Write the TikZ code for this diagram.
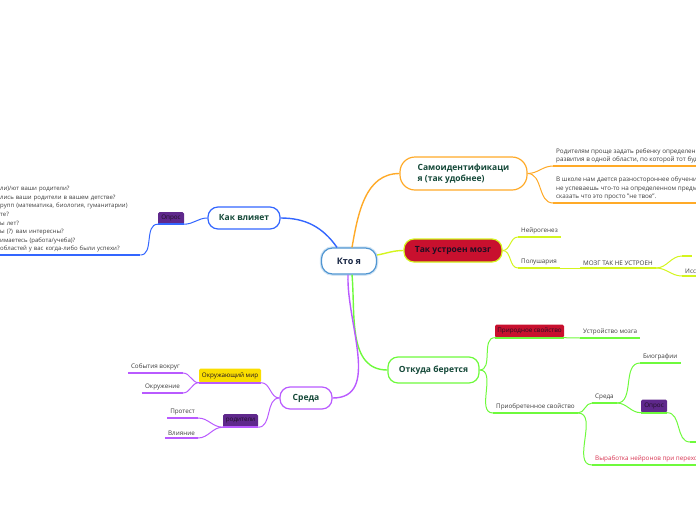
\documentclass[tikz,border=0pt]{standalone}
\usepackage{fontspec}
\setmainfont{Open Sans}
\usetikzlibrary{positioning}
\definecolor{blueline}{RGB}{51,102,255}
\definecolor{kyoblue}{RGB}{80,150,210}
\definecolor{kyotext}{RGB}{22,36,66}
\definecolor{orangeline}{RGB}{255,170,40}
\definecolor{limeline}{RGB}{212,245,30}
\definecolor{greenline}{RGB}{110,250,60}
\definecolor{purpleline}{RGB}{185,90,255}
\definecolor{crimson}{RGB}{200,16,46}
\definecolor{tagpurple}{RGB}{95,40,140}
\definecolor{tagyellow}{RGB}{250,222,0}
\definecolor{topicgreen}{RGB}{20,72,56}
\definecolor{leafgray}{RGB}{60,60,60}
\definecolor{tagtext}{RGB}{30,15,35}
\definecolor{redtext}{RGB}{215,50,80}

\begin{document}
\begin{tikzpicture}[x=1pt,y=-1pt,
  every node/.style={font=\fontsize{6.3}{8.6}\selectfont},
  topic/.style={draw=#1,fill=white,line width=1.2pt,rounded corners=10pt,inner sep=2pt,
                font=\fontsize{8.5}{11}\selectfont\bfseries,text=topicgreen,align=left},
  tag/.style={fill=#1,rounded corners=1.5pt,inner sep=1pt,minimum height=13pt,text=tagtext},
  leaf/.style={anchor=south west,inner xsep=3pt,inner ysep=2.5pt,align=left,text=leafgray},
  main/.style={draw=#1,line width=1.4pt},
  sub/.style={draw=#1,line width=1pt},
  ul/.style={draw=#1,line width=1.8pt}]
\useasboundingbox (0,0) rectangle (696,520);
\clip (0,0) rectangle (696,520);

% centre and main topics
\node[topic=kyoblue,text=kyotext,minimum width=55pt,minimum height=26pt,rounded corners=11pt,
      font=\fontsize{9}{11}\selectfont\bfseries,preaction={draw=kyoblue!25,line width=3.5pt}] (kto) at (349,261) {Кто я};
\node[topic=blueline,minimum width=72pt,minimum height=22pt] (vliyaet) at (244,218) {Как влияет};
\node[topic=orangeline,minimum width=127pt,minimum height=33pt,rounded corners=15pt] (samo) at (463.5,173.5) {Самоидентификаци\\я (так удобнее)};
\node[topic=limeline,fill=crimson,text=tagtext,minimum width=98pt,minimum height=23pt] (mozg) at (453,250.5) {Так устроен мозг};
\node[topic=greenline,minimum width=91pt,minimum height=26pt] (otkuda) at (433.5,370) {Откуда берется};
\node[topic=purpleline,minimum width=52pt,minimum height=22pt] (sreda) at (306,398) {Среда};

\draw[main=blueline] ([xshift=-12pt]kto.north) to[out=125,in=0] (vliyaet.east);
\draw[main=orangeline] ([xshift=3pt]kto.north) to[out=80,in=180] (samo.west);
\draw[main=limeline] ([yshift=6pt]kto.east) to[out=10,in=180] (mozg.west);
\draw[main=greenline] ([xshift=3pt]kto.south) to[out=-85,in=180] (otkuda.west);
\draw[main=purpleline] ([xshift=-1pt]kto.south) to[out=-92,in=0] (sreda.east);

% how it influences
\node[tag=tagpurple,minimum width=26pt,minimum height=12pt] (opros) at (171,218) {Опрос};
\node[leaf,text width=137pt,font=\fontsize{6}{8.6}\selectfont] (qlist) at (-3,255) {ли)/ют ваши родители?\\лись ваши родители в вашем детстве?\\рупп (математика, биология, гуманитарии)\\те?\\ы лет?\\ы (?) вам интересны?\\имаетесь (работа/учеба)?\\областей у вас когда-либо были успехи?};
\draw[ul=blueline] (opros.south west) -- (opros.south east); \draw[ul=blueline] (qlist.south west) -- (qlist.south east);
\draw[sub=blueline] (vliyaet.west) to[out=180,in=0] (opros.south east);
\draw[sub=blueline] (opros.south west) to[out=180,in=0] (qlist.south east);

% self-identification
\node[leaf] (rodit) at (553,166) {Родителям проще задать ребенку определенн\\развития в одной области, по которой тот буде};
\node[leaf] (shkola) at (553,203) {В школе нам дается разностороннее обучение\\не успеваешь что-то на определенном предме\\сказать что это просто "не твое".};
\draw[ul=orangeline] (rodit.south west) -- (rodit.south east); \draw[ul=orangeline] (shkola.south west) -- (shkola.south east);
\draw[sub=orangeline] (samo.east) to[out=0,in=180] (rodit.south west);
\draw[sub=orangeline] (samo.east) to[out=0,in=180] (shkola.south west);

% the brain
\node[leaf] (neuro) at (518,237) {Нейрогенез};
\node[leaf] (polush) at (518,268) {Полушария};
\node[leaf] (nottrue) at (580,268) {МОЗГ ТАК НЕ УСТРОЕН};
\node[leaf,minimum width=10pt] (blank) at (682,256) {};
\node[leaf] (iss) at (682,276) {Исс};
\draw[ul=limeline] (neuro.south west) -- (neuro.south east); \draw[ul=limeline] (polush.south west) -- (polush.south east);
\draw[ul=limeline] (nottrue.south west) -- (nottrue.south east); \draw[ul=limeline] (blank.south west) -- (blank.south east);
\draw[ul=limeline] (iss.south west) -- (iss.south east);
\draw[sub=limeline] (mozg.east) to[out=0,in=180] (neuro.south west);
\draw[sub=limeline] (mozg.east) to[out=0,in=180] (polush.south west);
\draw[sub=limeline] (polush.south east) -- (nottrue.south west);
\draw[sub=limeline] (nottrue.south east) to[out=0,in=180] (blank.south west);
\draw[sub=limeline] (nottrue.south east) to[out=0,in=180] (iss.south west);

% where it comes from
\node[tag=crimson,minimum width=69pt] (prirod) at (529.5,331) {Природное свойство};
\node[leaf] (ustr) at (580,338) {Устройство мозга};
\node[leaf] (priobr) at (493,413) {Приобретенное свойство};
\node[leaf] (sreda2) at (592,403) {Среда};
\node[leaf] (bio) at (640,363) {Биографии};
\node[tag=tagpurple,minimum width=26pt] (opros2) at (654,406) {Опрос};
\node[leaf,minimum width=10pt] (cut) at (690,442) {};
\node[leaf,text=redtext] (vyrab) at (592,465) {Выработка нейронов при переход};
\draw[ul=greenline] (prirod.south west) -- (prirod.south east); \draw[ul=greenline] (ustr.south west) -- (ustr.south east);
\draw[ul=greenline] (priobr.south west) -- (priobr.south east); \draw[ul=greenline] (sreda2.south west) -- (sreda2.south east);
\draw[ul=greenline] (bio.south west) -- (bio.south east); \draw[ul=greenline] (opros2.south west) -- (opros2.south east);
\draw[ul=greenline] (cut.south west) -- (cut.south east); \draw[ul=greenline] (vyrab.south west) -- (vyrab.south east);
\draw[sub=greenline] (otkuda.east) to[out=0,in=180] (prirod.south west);
\draw[sub=greenline] (otkuda.east) to[out=0,in=180] (priobr.south west);
\draw[sub=greenline] (prirod.south east) -- (ustr.south west);
\draw[sub=greenline] (priobr.south east) to[out=0,in=180] (sreda2.south west);
\draw[sub=greenline] (priobr.south east) to[out=0,in=180] (vyrab.south west);
\draw[sub=greenline] (sreda2.south east) to[out=0,in=180] (bio.south west);
\draw[sub=greenline] (sreda2.south east) to[out=0,in=180] (opros2.south west);
\draw[sub=greenline] (opros2.south east) to[out=0,in=180] (cut.south west);

% environment
\node[tag=tagyellow,minimum width=62pt,minimum height=14pt] (okr) at (230,375.5) {Окружающий мир};
\node[leaf,anchor=south east] (sobyt) at (183,373) {События вокруг};
\node[leaf,anchor=south east] (okruzh) at (183,393) {Окружение};
\node[tag=tagpurple,minimum width=35pt] (rodi) at (240.5,420.5) {родители};
\node[leaf,anchor=south east] (protest) at (198,418) {Протест};
\node[leaf,anchor=south east] (vliyanie) at (198,438) {Влияние};
\draw[ul=purpleline] (okr.south west) -- (okr.south east); \draw[ul=purpleline] (sobyt.south west) -- (sobyt.south east);
\draw[ul=purpleline] (okruzh.south west) -- (okruzh.south east); \draw[ul=purpleline] (rodi.south west) -- (rodi.south east);
\draw[ul=purpleline] (protest.south west) -- (protest.south east); \draw[ul=purpleline] (vliyanie.south west) -- (vliyanie.south east);
\draw[sub=purpleline] (sreda.west) to[out=180,in=0] (okr.south east);
\draw[sub=purpleline] (sreda.west) to[out=180,in=0] (rodi.south east);
\draw[sub=purpleline] (okr.south west) to[out=180,in=0] (sobyt.south east);
\draw[sub=purpleline] (okr.south west) to[out=180,in=0] (okruzh.south east);
\draw[sub=purpleline] (rodi.south west) to[out=180,in=0] (protest.south east);
\draw[sub=purpleline] (rodi.south west) to[out=180,in=0] (vliyanie.south east);
\end{tikzpicture}
\end{document}
